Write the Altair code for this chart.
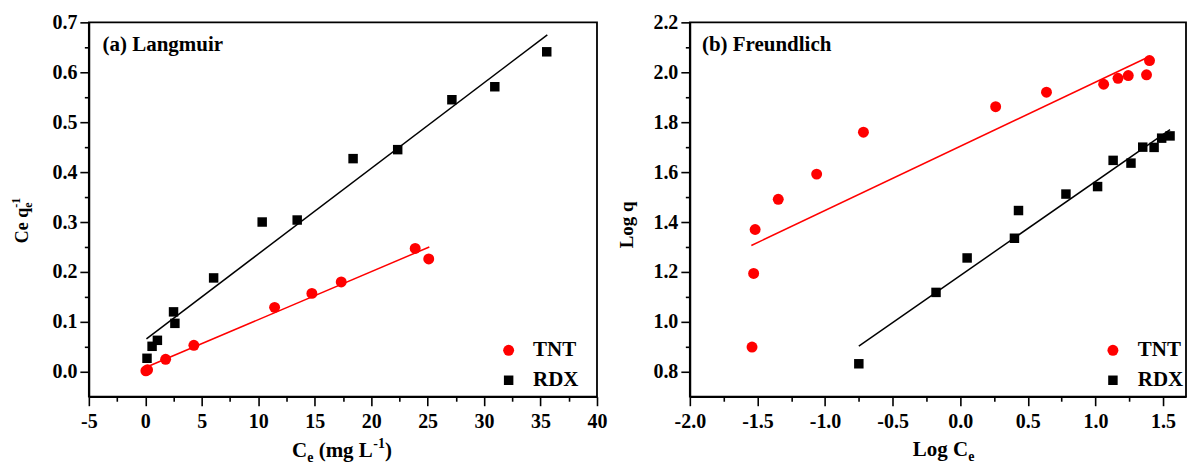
import altair as alt
import pandas as pd

# ---------------- data ----------------
series = ["TNT", "RDX"]

# (a) Langmuir: Ce (mg/L) vs Ce/qe
tnt_ce = [0.05, 0.2, 1.8, 4.3, 11.45, 14.75, 17.35, 23.9, 25.1]
tnt_ceq = [0.002, 0.004, 0.025, 0.053, 0.129, 0.157, 0.180, 0.247, 0.226]
rdx_ce = [0.15, 0.6, 1.07, 2.5, 2.62, 6.05, 10.35, 13.45, 18.4, 22.35, 27.15, 30.95, 35.55]
rdx_ceq = [0.027, 0.051, 0.063, 0.120, 0.097, 0.188, 0.300, 0.304, 0.427, 0.445, 0.545, 0.571, 0.641]
tnt_fit_ce = [0.07, 25.15]
tnt_fit_ceq = [0.009, 0.250]
rdx_fit_ce = [0.1, 35.6]
rdx_fit_ceq = [0.066, 0.675]

# (b) Freundlich: Log Ce vs Log q
tnt_logce = [-1.54, -1.528, -1.517, -1.346, -1.062, -0.716, 0.262, 0.638, 1.061, 1.167, 1.243, 1.378, 1.40]
tnt_logq = [0.899, 1.194, 1.370, 1.491, 1.592, 1.760, 1.862, 1.920, 1.952, 1.976, 1.987, 1.990, 2.047]
rdx_logce = [-0.75, -0.179, 0.051, 0.401, 0.431, 0.782, 1.016, 1.131, 1.263, 1.35, 1.434, 1.49, 1.552]
rdx_logq = [0.832, 1.118, 1.256, 1.335, 1.446, 1.512, 1.542, 1.647, 1.636, 1.700, 1.699, 1.736, 1.745]
tnt_fit_logce = [-1.545, 1.40]
tnt_fit_logq = [1.306, 2.063]
rdx_fit_logce = [-0.75, 1.552]
rdx_fit_logq = [0.903, 1.770]

# axis ticks
a_x_major = [-5, 0, 5, 10, 15, 20, 25, 30, 35, 40]
a_x_minor = [-2.5, 2.5, 7.5, 12.5, 17.5, 22.5, 27.5, 32.5, 37.5]
a_y_major = [0.0, 0.1, 0.2, 0.3, 0.4, 0.5, 0.6, 0.7]
a_y_minor = [0.05, 0.15, 0.25, 0.35, 0.45, 0.55, 0.65]
b_x_major = [-2.0, -1.5, -1.0, -0.5, 0.0, 0.5, 1.0, 1.5]
b_x_minor = [-1.75, -1.25, -0.75, -0.25, 0.25, 0.75, 1.25]
b_y_major = [0.8, 1.0, 1.2, 1.4, 1.6, 1.8, 2.0, 2.2]
b_y_minor = [0.9, 1.1, 1.3, 1.5, 1.7, 1.9, 2.1]

FONT = "Liberation Serif"
COLORS = ["#ff0000", "#000000"]
SHAPES = ["circle", "square"]


def pts_frame(xa, ya, xb, yb):
    return pd.DataFrame({
        "x": list(xa) + list(xb),
        "y": list(ya) + list(yb),
        "series": [series[0]] * len(xa) + [series[1]] * len(xb),
    })


def txt(data, s, x, y, size, angle=0):
    kw = dict(text=s, font=FONT, fontWeight="bold", fontSize=size,
              align="left", baseline="alphabetic", color="black")
    if angle:
        kw["angle"] = angle
    return alt.Chart(data).mark_text(**kw).encode(x=alt.value(x), y=alt.value(y))


def panel(pts, fits, xdom, ydom, xmaj, xmin, ymaj, ymin, xfmt, w, h,
          legx, legy, laboff, texts):
    xs = alt.Scale(domain=xdom, nice=False, zero=False)
    ys = alt.Scale(domain=ydom, nice=False, zero=False)
    xlab = "replace(format(datum.value, '%s'), '\u2212', '-')" % xfmt
    ylab = "replace(format(datum.value, '.1f'), '\u2212', '-')"
    common = dict(grid=False, labelFont=FONT, labelFontWeight=900, labelFontSize=20,
                  labelColor="black", tickColor="black", domainColor="black",
                  tickWidth=1.6, domainWidth=1.8, labelFlush=False, labelOverlap=False)
    ax_x = alt.Axis(orient="bottom", values=xmaj, tickSize=9, labelPadding=6,
                    labelExpr=xlab, **common)
    ax_y = alt.Axis(orient="left", values=ymaj, tickSize=9, labelPadding=3,
                    labelExpr=ylab, **common)
    mx = alt.Axis(orient="bottom", values=xmin, tickSize=4.5, labels=False,
                  domain=False, grid=False, tickColor="black", tickWidth=1.6)
    my = alt.Axis(orient="left", values=ymin, tickSize=4.5, labels=False,
                  domain=False, grid=False, tickColor="black", tickWidth=1.6)

    minor = alt.Chart(pts).mark_point(opacity=0).encode(
        x=alt.X("x:Q", scale=xs, axis=mx, title=None),
        y=alt.Y("y:Q", scale=ys, axis=my, title=None),
    )
    layers = [minor]
    for (fx, fy), col in zip(fits, COLORS):
        fdf = pd.DataFrame({"x": fx, "y": fy})
        layers.append(alt.Chart(fdf).mark_line(color=col, strokeWidth=1.5).encode(
            x=alt.X("x:Q", scale=xs, axis=None),
            y=alt.Y("y:Q", scale=ys, axis=None),
        ))
    leg = alt.Legend(orient="none", legendX=legx, legendY=legy, title=None,
                     labelFont=FONT, labelFontWeight="bold", labelFontSize=21,
                     labelColor="black", symbolSize=100, labelOffset=laboff,
                     rowPadding=8, padding=0, symbolStrokeWidth=0)
    points = alt.Chart(pts).mark_point(filled=True, opacity=1).encode(
        x=alt.X("x:Q", scale=xs, axis=ax_x, title=None),
        y=alt.Y("y:Q", scale=ys, axis=ax_y, title=None),
        color=alt.Color("series:N", scale=alt.Scale(domain=series, range=COLORS), legend=leg),
        shape=alt.Shape("series:N", scale=alt.Scale(domain=series, range=SHAPES), legend=leg),
        size=alt.Size("series:N", scale=alt.Scale(domain=series, range=[120, 90]), legend=None),
    )
    layers.append(points)
    dummy = pd.DataFrame({"d": [0]})
    for t in texts:
        layers.append(txt(dummy, *t))
    return alt.layer(*layers).resolve_axis(x="independent", y="independent").properties(
        width=w, height=h)


H = 375
left = panel(
    pts_frame(tnt_ce, tnt_ceq, rdx_ce, rdx_ceq),
    [(tnt_fit_ce, tnt_fit_ceq), (rdx_fit_ce, rdx_fit_ceq)],
    [-5, 40], [-0.05, 0.7], a_x_major, a_x_minor, a_y_major, a_y_minor, "d",
    509, H, 410, 318, 14,
    [
        ("(a) Langmuir", 13.7, 28.3, 21),
        ("C", 203.5, 435.0, 21),
        ("e", 218.7, 440.0, 14),
        ("(mg L", 230.2, 435.0, 21),
        ("-1", 285.0, 426.5, 14),
        (")", 296.6, 435.0, 21),
        ("Ce q", -61.3, 221.3, 18, 270),
        ("e", -57.0, 185.8, 12, 270),
        ("-1", -69.3, 185.8, 12, 270),
    ],
)
right = panel(
    pts_frame(tnt_logce, tnt_logq, rdx_logce, rdx_logq),
    [(tnt_fit_logce, tnt_fit_logq), (rdx_fit_logce, rdx_fit_logq)],
    [-2.0, 1.67], [0.7, 2.2], b_x_major, b_x_minor, b_y_major, b_y_minor, ".1f",
    497, H, 413.3, 318, 14.4,
    [
        ("(b) Freundlich", 12.1, 28.3, 21),
        ("Log C", 223.4, 434.0, 21),
        ("e", 279.0, 439.0, 14),
        ("Log q", -57.3, 226.3, 19, 270),
    ],
)

chart = alt.hconcat(left, right, spacing=93, bounds="flush").resolve_scale(
    color="independent", shape="independent", size="independent"
).properties(
    padding={"left": 8, "top": 11, "right": 0, "bottom": 0},
    background="white",
).configure_view(stroke="black", strokeWidth=1.8).configure_axis(
    labelFont=FONT, labelFontWeight=900, labelFontSize=20, labelColor="black"
)

chart.save("out.html", embed_options={"renderer": "svg", "actions": False})
